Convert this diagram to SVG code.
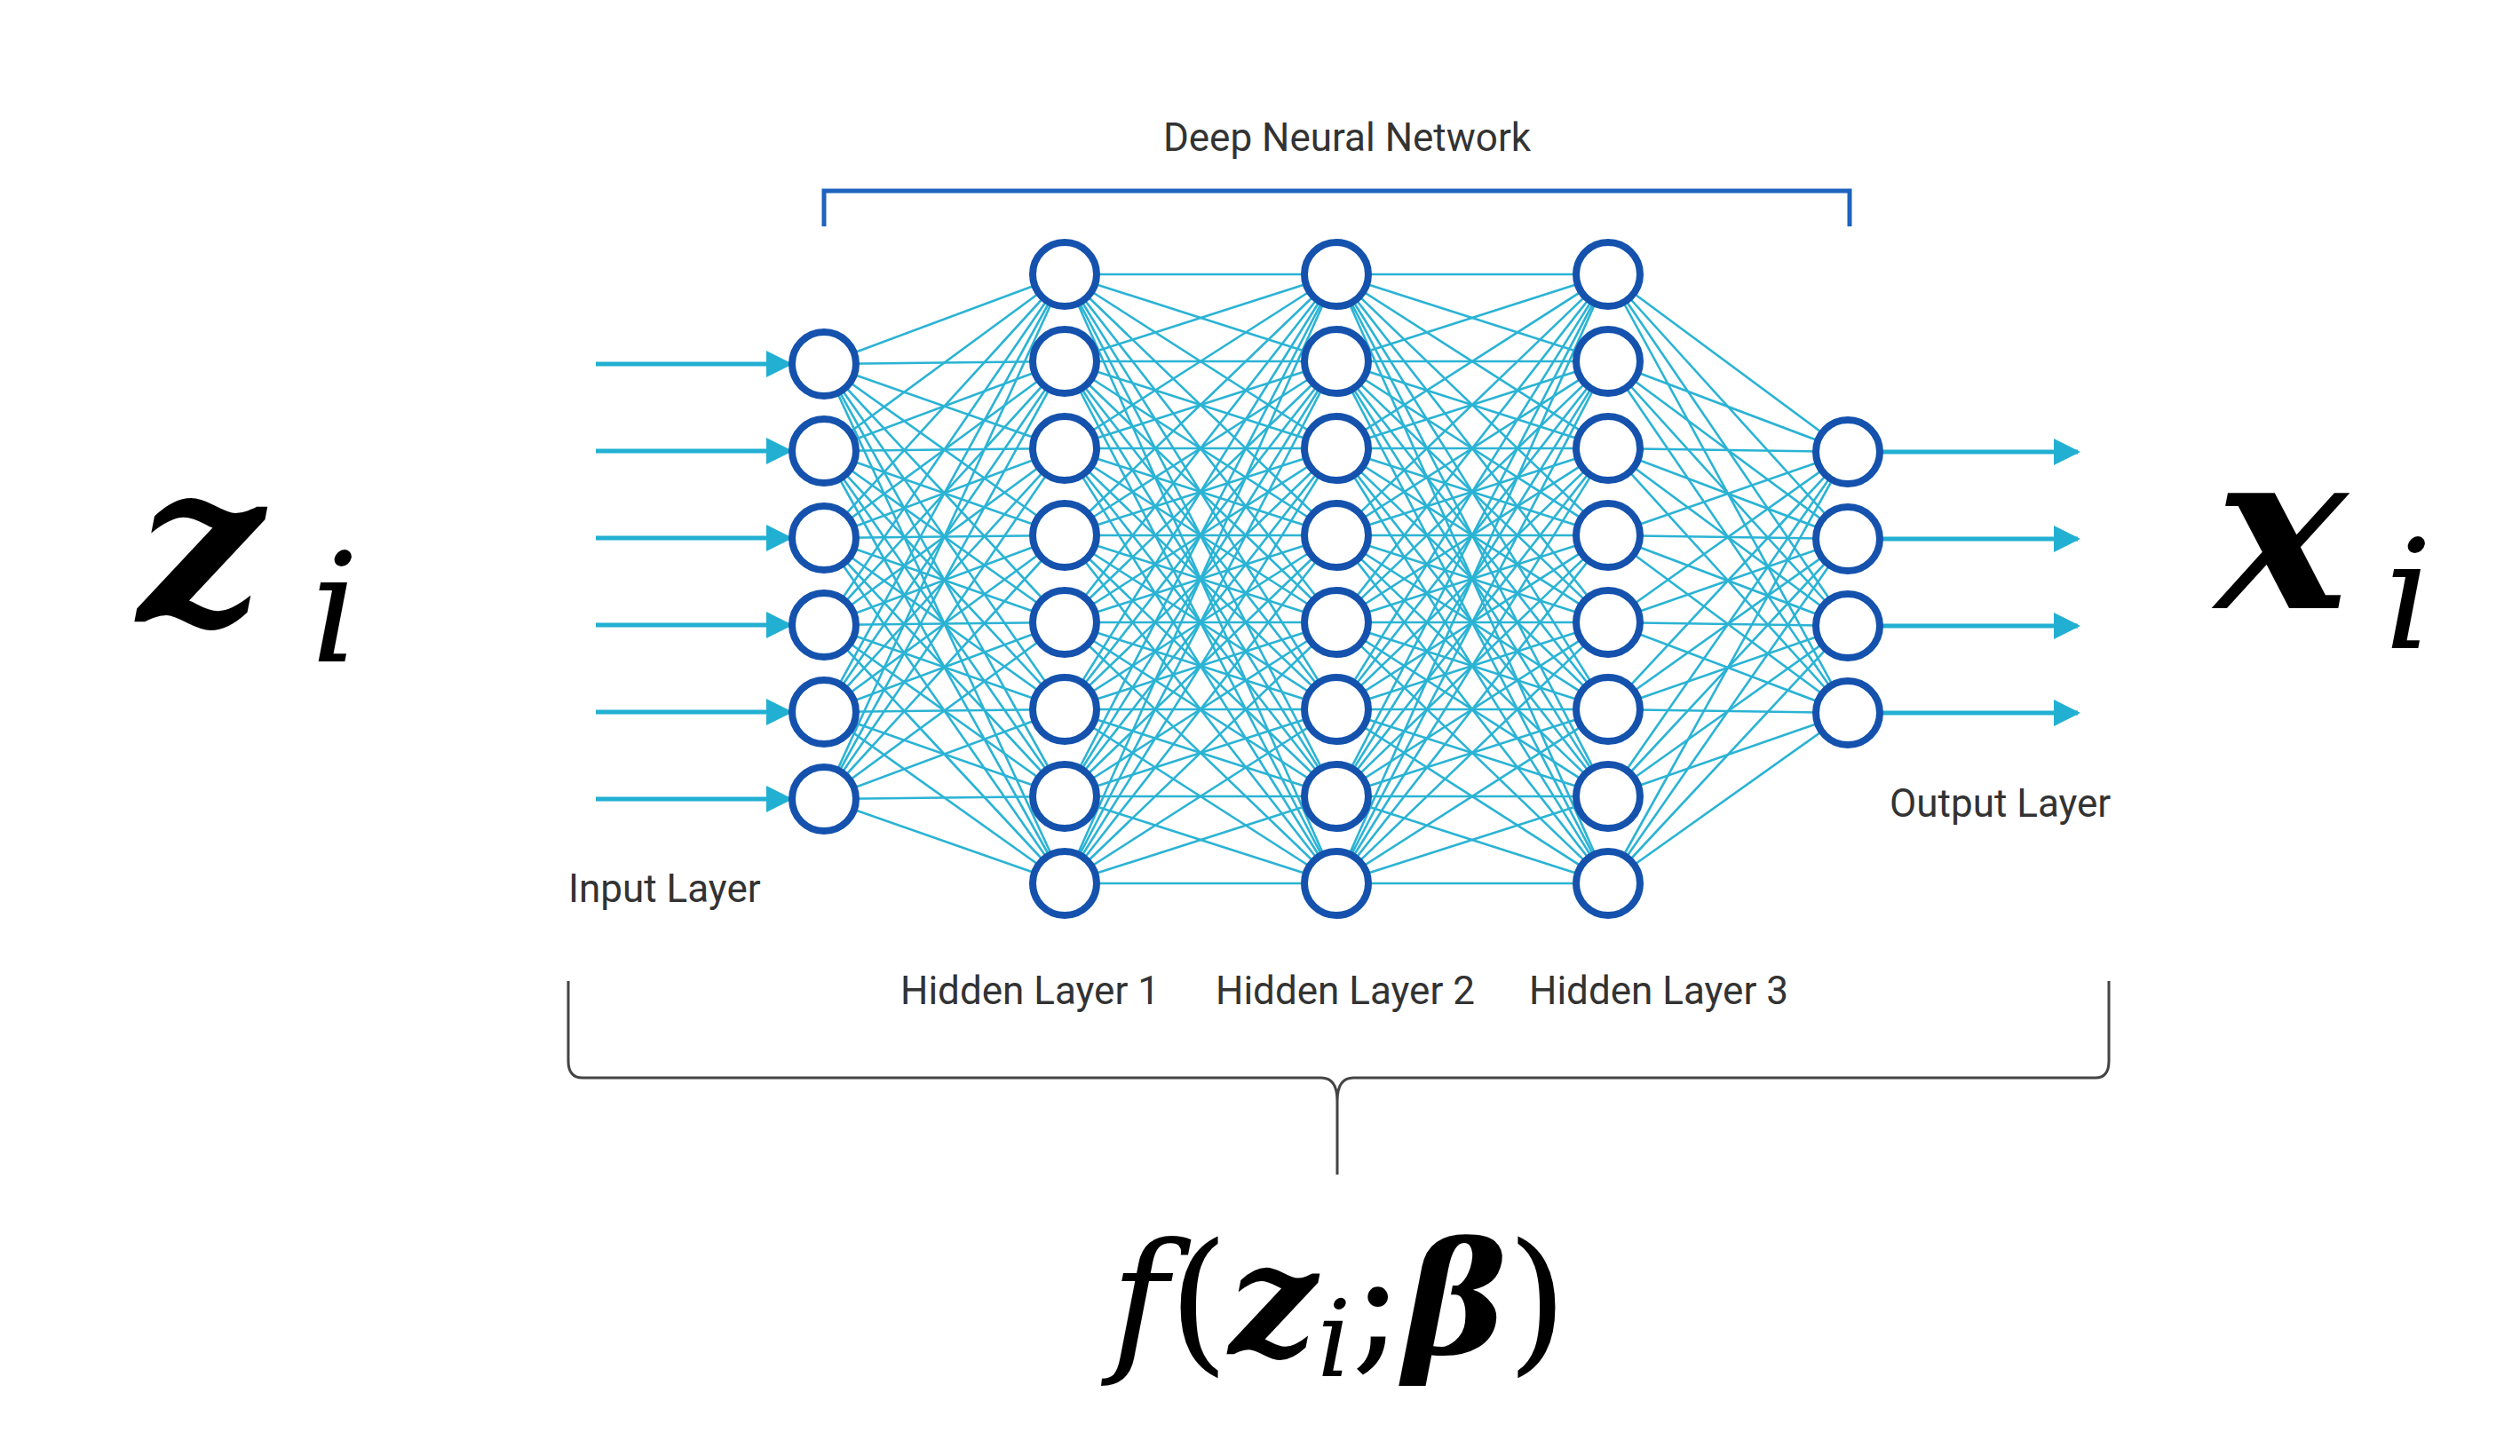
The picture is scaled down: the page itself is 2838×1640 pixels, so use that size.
<svg xmlns="http://www.w3.org/2000/svg" xmlns:xlink="http://www.w3.org/1999/xlink" width="2838" height="1640" viewBox="0 0 2838 1640">
<style>
.edge{fill:none;stroke:#2bb3d4;stroke-width:2.6;stroke-linejoin:round}
.node{fill:#fff;stroke:#1552ad;stroke-width:8}
.arr{stroke:#22b0d2;stroke-width:5;fill:none}
.lbl{font-family:Roboto,"Liberation Sans",sans-serif;font-size:44px;fill:#333}
.math{font-family:"DejaVu Serif","Liberation Serif",serif;fill:#000}
</style>
<defs>
<marker id="ah" viewBox="0 0 10 10" refX="9" refY="5" markerWidth="6" markerHeight="6" markerUnits="strokeWidth" orient="auto"><path d="M0,0 L10,5 L0,10 z" fill="#22b0d2"/></marker>
<g id="mesh88" class="edge">
<path d="M0,309 L306,309 L0,309 L306,407 L0,309 L306,505 L0,309 L306,603 L0,309 L306,701 L0,309 L306,799 L0,309 L306,897 L0,309 L306,995"/>
<path d="M0,407 L306,309 L0,407 L306,407 L0,407 L306,505 L0,407 L306,603 L0,407 L306,701 L0,407 L306,799 L0,407 L306,897 L0,407 L306,995"/>
<path d="M0,505 L306,309 L0,505 L306,407 L0,505 L306,505 L0,505 L306,603 L0,505 L306,701 L0,505 L306,799 L0,505 L306,897 L0,505 L306,995"/>
<path d="M0,603 L306,309 L0,603 L306,407 L0,603 L306,505 L0,603 L306,603 L0,603 L306,701 L0,603 L306,799 L0,603 L306,897 L0,603 L306,995"/>
<path d="M0,701 L306,309 L0,701 L306,407 L0,701 L306,505 L0,701 L306,603 L0,701 L306,701 L0,701 L306,799 L0,701 L306,897 L0,701 L306,995"/>
<path d="M0,799 L306,309 L0,799 L306,407 L0,799 L306,505 L0,799 L306,603 L0,799 L306,701 L0,799 L306,799 L0,799 L306,897 L0,799 L306,995"/>
<path d="M0,897 L306,309 L0,897 L306,407 L0,897 L306,505 L0,897 L306,603 L0,897 L306,701 L0,897 L306,799 L0,897 L306,897 L0,897 L306,995"/>
<path d="M0,995 L306,309 L0,995 L306,407 L0,995 L306,505 L0,995 L306,603 L0,995 L306,701 L0,995 L306,799 L0,995 L306,897 L0,995 L306,995"/>
</g>
</defs>
<rect width="2838" height="1640" fill="#fff"/>
<g id="connectors">
<g class="edge">
<path d="M928,410 L1199,309 L928,410 L1199,407 L928,410 L1199,505 L928,410 L1199,603 L928,410 L1199,701 L928,410 L1199,799 L928,410 L1199,897 L928,410 L1199,995"/>
<path d="M928,508 L1199,309 L928,508 L1199,407 L928,508 L1199,505 L928,508 L1199,603 L928,508 L1199,701 L928,508 L1199,799 L928,508 L1199,897 L928,508 L1199,995"/>
<path d="M928,606 L1199,309 L928,606 L1199,407 L928,606 L1199,505 L928,606 L1199,603 L928,606 L1199,701 L928,606 L1199,799 L928,606 L1199,897 L928,606 L1199,995"/>
<path d="M928,704 L1199,309 L928,704 L1199,407 L928,704 L1199,505 L928,704 L1199,603 L928,704 L1199,701 L928,704 L1199,799 L928,704 L1199,897 L928,704 L1199,995"/>
<path d="M928,802 L1199,309 L928,802 L1199,407 L928,802 L1199,505 L928,802 L1199,603 L928,802 L1199,701 L928,802 L1199,799 L928,802 L1199,897 L928,802 L1199,995"/>
<path d="M928,900 L1199,309 L928,900 L1199,407 L928,900 L1199,505 L928,900 L1199,603 L928,900 L1199,701 L928,900 L1199,799 L928,900 L1199,897 L928,900 L1199,995"/>
<path d="M2081,509 L1811,309 L2081,509 L1811,407 L2081,509 L1811,505 L2081,509 L1811,603 L2081,509 L1811,701 L2081,509 L1811,799 L2081,509 L1811,897 L2081,509 L1811,995"/>
<path d="M2081,607 L1811,309 L2081,607 L1811,407 L2081,607 L1811,505 L2081,607 L1811,603 L2081,607 L1811,701 L2081,607 L1811,799 L2081,607 L1811,897 L2081,607 L1811,995"/>
<path d="M2081,705 L1811,309 L2081,705 L1811,407 L2081,705 L1811,505 L2081,705 L1811,603 L2081,705 L1811,701 L2081,705 L1811,799 L2081,705 L1811,897 L2081,705 L1811,995"/>
<path d="M2081,803 L1811,309 L2081,803 L1811,407 L2081,803 L1811,505 L2081,803 L1811,603 L2081,803 L1811,701 L2081,803 L1811,799 L2081,803 L1811,897 L2081,803 L1811,995"/>
</g>
<use xlink:href="#mesh88" transform="translate(1199,0)"/>
<use xlink:href="#mesh88" transform="translate(1505,0)"/>
<g class="arr" marker-end="url(#ah)">
<line x1="671" y1="410" x2="890" y2="410"/><line x1="671" y1="508" x2="890" y2="508"/><line x1="671" y1="606" x2="890" y2="606"/>
<line x1="671" y1="704" x2="890" y2="704"/><line x1="671" y1="802" x2="890" y2="802"/><line x1="671" y1="900" x2="890" y2="900"/>
<line x1="2119" y1="509" x2="2340" y2="509"/><line x1="2119" y1="607" x2="2340" y2="607"/><line x1="2119" y1="705" x2="2340" y2="705"/><line x1="2119" y1="803" x2="2340" y2="803"/>
</g>
</g>
<g id="input-layer">
<circle class="node" cx="928" cy="410" r="36"/><circle class="node" cx="928" cy="508" r="36"/><circle class="node" cx="928" cy="606" r="36"/>
<circle class="node" cx="928" cy="704" r="36"/><circle class="node" cx="928" cy="802" r="36"/><circle class="node" cx="928" cy="900" r="36"/>
<text class="lbl" x="640" y="1016">Input Layer</text>
</g>
<g id="hidden-layer-1">
<circle class="node" cx="1199" cy="309" r="36"/><circle class="node" cx="1199" cy="407" r="36"/><circle class="node" cx="1199" cy="505" r="36"/><circle class="node" cx="1199" cy="603" r="36"/>
<circle class="node" cx="1199" cy="701" r="36"/><circle class="node" cx="1199" cy="799" r="36"/><circle class="node" cx="1199" cy="897" r="36"/><circle class="node" cx="1199" cy="995" r="36"/>
<text class="lbl" x="1160" y="1131" text-anchor="middle">Hidden Layer 1</text>
</g>
<g id="hidden-layer-2">
<circle class="node" cx="1505" cy="309" r="36"/><circle class="node" cx="1505" cy="407" r="36"/><circle class="node" cx="1505" cy="505" r="36"/><circle class="node" cx="1505" cy="603" r="36"/>
<circle class="node" cx="1505" cy="701" r="36"/><circle class="node" cx="1505" cy="799" r="36"/><circle class="node" cx="1505" cy="897" r="36"/><circle class="node" cx="1505" cy="995" r="36"/>
<text class="lbl" x="1515" y="1131" text-anchor="middle">Hidden Layer 2</text>
</g>
<g id="hidden-layer-3">
<circle class="node" cx="1811" cy="309" r="36"/><circle class="node" cx="1811" cy="407" r="36"/><circle class="node" cx="1811" cy="505" r="36"/><circle class="node" cx="1811" cy="603" r="36"/>
<circle class="node" cx="1811" cy="701" r="36"/><circle class="node" cx="1811" cy="799" r="36"/><circle class="node" cx="1811" cy="897" r="36"/><circle class="node" cx="1811" cy="995" r="36"/>
<text class="lbl" x="1868" y="1131" text-anchor="middle">Hidden Layer 3</text>
</g>
<g id="output-layer">
<circle class="node" cx="2081" cy="509" r="36"/><circle class="node" cx="2081" cy="607" r="36"/><circle class="node" cx="2081" cy="705" r="36"/><circle class="node" cx="2081" cy="803" r="36"/>
<text class="lbl" x="2128" y="920">Output Layer</text>
</g>
<g id="dnn-bracket">
<path d="M928,255 V215 H2083 V255" fill="none" stroke="#1e62be" stroke-width="5"/>
<text class="lbl" x="1517" y="170" font-size="46" text-anchor="middle">Deep Neural Network</text>
</g>
<g id="brace">
<path d="M640,1105 V1195 Q640,1214 656,1214 H1488 Q1506,1214 1506,1240 V1323 M1506,1240 Q1506,1214 1524,1214 H2360 Q2375,1214 2375,1195 V1105" fill="none" stroke="#444" stroke-width="3"/>
</g>
<g id="math">
<text class="math" x="155" y="700" font-size="250" font-weight="bold" font-style="italic">z</text>
<text class="math" x="350" y="745" font-size="170" font-style="italic">i</text>
<text class="math" x="2495" y="685" font-size="250" font-weight="bold" font-style="italic">x</text>
<text class="math" x="2685" y="730" font-size="170" font-style="italic">i</text>
<text class="math" x="1508" y="1525" font-size="175" text-anchor="middle"><tspan font-style="italic">f</tspan>(<tspan font-style="italic" font-weight="bold">z</tspan><tspan font-style="italic" font-size="120" dy="25">i</tspan><tspan dy="-25">;</tspan><tspan font-style="italic" font-weight="bold">β</tspan>)</text>
</g>
</svg>
